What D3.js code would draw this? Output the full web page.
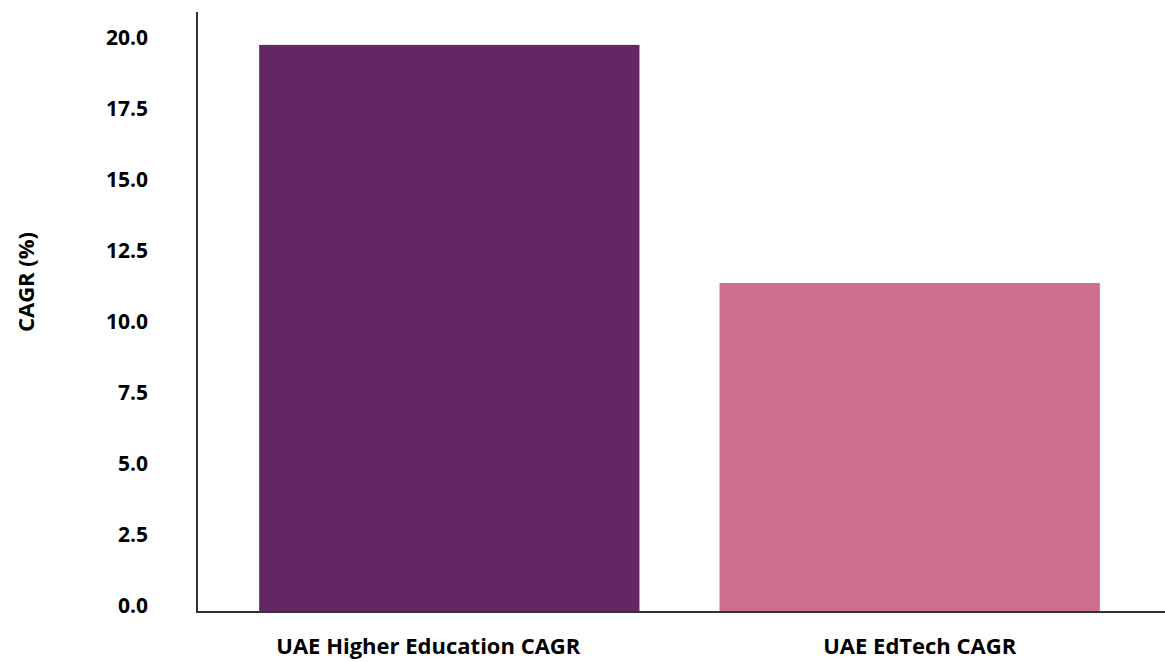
<!DOCTYPE html>
<html>
<head>
<meta charset="utf-8">
<script src="https://cdn.jsdelivr.net/npm/d3@7"></script>
<style>
  html, body { margin: 0; padding: 0; background: #ffffff; }
  svg { display: block; font-family: "Open Sans", "Noto Sans", sans-serif; }
</style>
</head>
<body>
<svg id="chart" width="1165" height="662"></svg>
<script>
const categories = ["UAE Higher Education CAGR", "UAE EdTech CAGR"];
const values = [20.0, 11.6];
const colors = ["#642667", "#CD6E8C"];
const yTicks = [0, 2.5, 5, 7.5, 10, 12.5, 15, 17.5, 20];
const yTitle = "CAGR (%)";
const labelShift = [-21, 10];

const svg = d3.select("#chart");
const mLeft = 197, mRight = 1162, mTop = 12, mBottom = 612;

const x = d3.scaleBand().domain(categories).range([mLeft, mRight])
  .paddingInner(0.174).paddingOuter(0.135);
const y = d3.scaleLinear().domain([0, 21.16]).range([mBottom, mTop]);

// bars
svg.append("g").selectAll("rect").data(categories).join("rect")
  .attr("x", d => x(d))
  .attr("y", (d, i) => y(values[i]))
  .attr("width", x.bandwidth())
  .attr("height", (d, i) => y(0) - y(values[i]))
  .attr("fill", (d, i) => colors[i]);

// y axis
const yAxis = svg.append("g").attr("transform", `translate(${mLeft},0)`)
  .call(d3.axisLeft(y).tickValues(yTicks).tickSize(0).tickPadding(49)
    .tickFormat(d3.format(".1f")));
yAxis.select(".domain").attr("stroke", "#333").attr("stroke-width", 2)
  .attr("d", `M0,${mTop}V${mBottom}`);
yAxis.selectAll("text")
  .attr("font-family", "'Open Sans', sans-serif")
  .attr("font-size", 21).attr("font-weight", 700).attr("fill", "#000")
  .attr("dy", "0").attr("dominant-baseline", "alphabetic");

// x axis
const xAxis = svg.append("g").attr("transform", `translate(0,${mBottom})`)
  .call(d3.axisBottom(x).tickSize(0));
xAxis.select(".domain").attr("stroke", "#333").attr("stroke-width", 2)
  .attr("d", `M${mLeft - 1},0H${mRight + 3}`);
xAxis.selectAll("text")
  .attr("font-family", "'Open Sans', sans-serif")
  .attr("font-size", 22).attr("font-weight", 700).attr("fill", "#000")
  .attr("y", 42).attr("dy", 0)
  .attr("dx", (d, i) => labelShift[i]);

// y title
svg.append("text")
  .attr("transform", `translate(34,282) rotate(-90)`)
  .attr("text-anchor", "middle")
  .attr("font-size", 22).attr("font-weight", 700).attr("fill", "#000")
  .text(yTitle);
</script>
</body>
</html>
